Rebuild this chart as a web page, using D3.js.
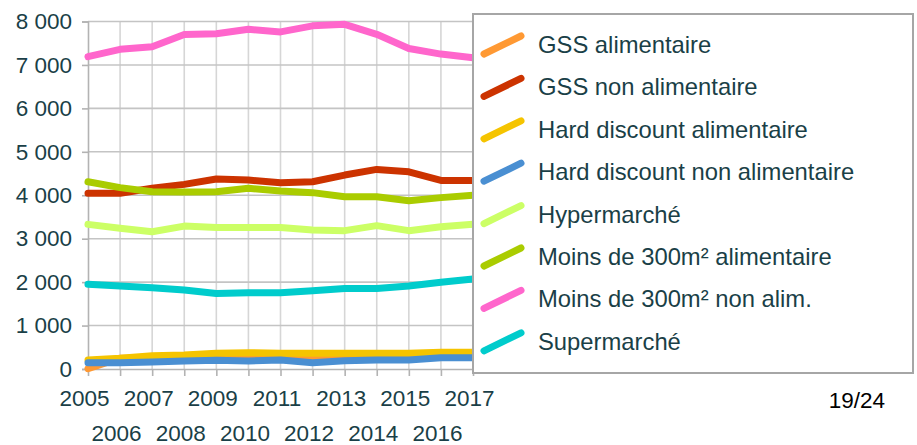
<!DOCTYPE html>
<html>
<head>
<meta charset="utf-8">
<script src="https://cdn.jsdelivr.net/npm/d3@7"></script>
<style>
  html, body { margin: 0; padding: 0; background: #fff; }
  svg { display: block; }
  text { font-family: "Liberation Sans", Arial, sans-serif; }
</style>
</head>
<body>
<svg id="chart" width="917" height="445"></svg>
<script>
// Years on the x axis
const years = [2005, 2006, 2007, 2008, 2009, 2010, 2011, 2012, 2013, 2014, 2015, 2016, 2017];

// Series names (legend order)
const seriesNames = [
  "GSS alimentaire",
  "GSS non alimentaire",
  "Hard discount alimentaire",
  "Hard discount non alimentaire",
  "Hypermarché",
  "Moins de 300m² alimentaire",
  "Moins de 300m² non alim.",
  "Supermarché"
];

// Series values, one per year
const gssAlim        = [10, 250, 260, 270, 280, 280, 290, 280, 290, 300, 300, 320, 330];
const gssNonAlim     = [4045, 4045, 4160, 4250, 4375, 4350, 4290, 4310, 4465, 4595, 4540, 4340, 4340];
const hdAlim         = [205, 245, 305, 320, 360, 375, 365, 360, 365, 365, 365, 385, 385];
const hdNonAlim      = [145, 145, 160, 185, 200, 185, 205, 145, 190, 205, 205, 260, 260];
const hypermarche    = [3330, 3240, 3160, 3290, 3260, 3260, 3255, 3200, 3185, 3300, 3185, 3275, 3330];
const moins300Alim   = [4310, 4175, 4080, 4075, 4080, 4160, 4100, 4060, 3965, 3965, 3875, 3945, 4000];
const moins300NonAl  = [7190, 7360, 7420, 7700, 7720, 7820, 7760, 7900, 7935, 7705, 7380, 7250, 7165];
const supermarche    = [1950, 1910, 1870, 1820, 1740, 1755, 1755, 1800, 1855, 1855, 1910, 1995, 2070];

const seriesValues = [gssAlim, gssNonAlim, hdAlim, hdNonAlim, hypermarche, moins300Alim, moins300NonAl, supermarche];

const seriesColors = ["#ff9933", "#cc3300", "#f5c400", "#4a8fd2", "#ccff66", "#aacc00", "#ff66cc", "#00cccc"];

// Y axis ticks
const yTicks = [0, 1000, 2000, 3000, 4000, 5000, 6000, 7000, 8000];

const pageLabel = "19/24";

const svg = d3.select("#chart");
const textColor = "#1a3f47";

const x = d3.scaleLinear().domain([2005, 2017]).range([88, 473]);
const y = d3.scaleLinear().domain([0, 8000]).range([369, 21.5]);

const fmt = v => d3.format(",")(v).replace(/,/g, "\u00a0");

// Grid
const grid = svg.append("g");
grid.selectAll("line.v").data(years.slice(1)).join("line")
  .attr("x1", d => x(d)).attr("x2", d => x(d))
  .attr("y1", y(8000)).attr("y2", y(0))
  .attr("stroke", "#d6d6d6").attr("stroke-width", 1.6);
grid.selectAll("line.h").data(yTicks.slice(1)).join("line")
  .attr("x1", x(2005)).attr("x2", x(2017))
  .attr("y1", d => y(d)).attr("y2", d => y(d))
  .attr("stroke", "#c4c4c4").attr("stroke-width", 1.6);

// Y axis
const yAxis = svg.append("g")
  .attr("transform", `translate(${x(2005)},0)`)
  .call(d3.axisLeft(y).tickValues(yTicks).tickFormat(fmt).tickSize(6).tickPadding(10));
yAxis.select(".domain").attr("stroke", "#b3b3b3").attr("stroke-width", 1.6);
yAxis.selectAll(".tick line").attr("stroke", "#b3b3b3").attr("stroke-width", 1.6);
yAxis.selectAll(".tick text")
  .attr("fill", textColor).attr("font-size", 22.5)
  .attr("font-family", "Liberation Sans, Arial, sans-serif");

// X axis: odd years on the first row, even years on the second
const xAxis = svg.append("g")
  .attr("transform", `translate(0,${y(0)})`)
  .call(d3.axisBottom(x).tickValues(years).tickFormat(d3.format("d")).tickSize(7).tickSizeOuter(0));
xAxis.select(".domain").attr("stroke", "#b3b3b3").attr("stroke-width", 1.6);
xAxis.selectAll(".tick line").attr("stroke", "#b3b3b3").attr("stroke-width", 1.6);
xAxis.selectAll(".tick text")
  .attr("fill", textColor).attr("font-size", 22.5)
  .attr("font-family", "Liberation Sans, Arial, sans-serif")
  .attr("dy", null)
  .attr("x", -4)
  .attr("y", (d, i) => i % 2 === 0 ? 37 : 72);

// Lines
const line = d3.line().x((d, i) => x(years[i])).y(d => y(d));
svg.append("g").selectAll("path").data(seriesValues).join("path")
  .attr("d", d => line(d))
  .attr("fill", "none")
  .attr("stroke", (d, i) => seriesColors[i])
  .attr("stroke-width", 7)
  .attr("stroke-linecap", "round")
  .attr("stroke-linejoin", "round");

// Legend
const legend = svg.append("g");
legend.append("rect")
  .attr("x", 473).attr("y", 14).attr("width", 440).attr("height", 359)
  .attr("fill", "#fff").attr("stroke", "#a6a6a6").attr("stroke-width", 2);
const items = legend.selectAll("g.item").data(seriesNames).join("g")
  .attr("transform", (d, i) => `translate(0,${45 + i * 42.4})`);
items.append("line")
  .attr("x1", 484).attr("y1", 9).attr("x2", 521).attr("y2", -9)
  .attr("stroke", (d, i) => seriesColors[i])
  .attr("stroke-width", 7).attr("stroke-linecap", "round");
items.append("text")
  .attr("x", 538).attr("y", 8)
  .attr("fill", textColor).attr("font-size", 23.8)
  .text(d => d);

// Page number
svg.append("text")
  .attr("x", 885).attr("y", 408).attr("text-anchor", "end")
  .attr("fill", "#000").attr("font-size", 22.5)
  .text(pageLabel);
</script>
</body>
</html>
